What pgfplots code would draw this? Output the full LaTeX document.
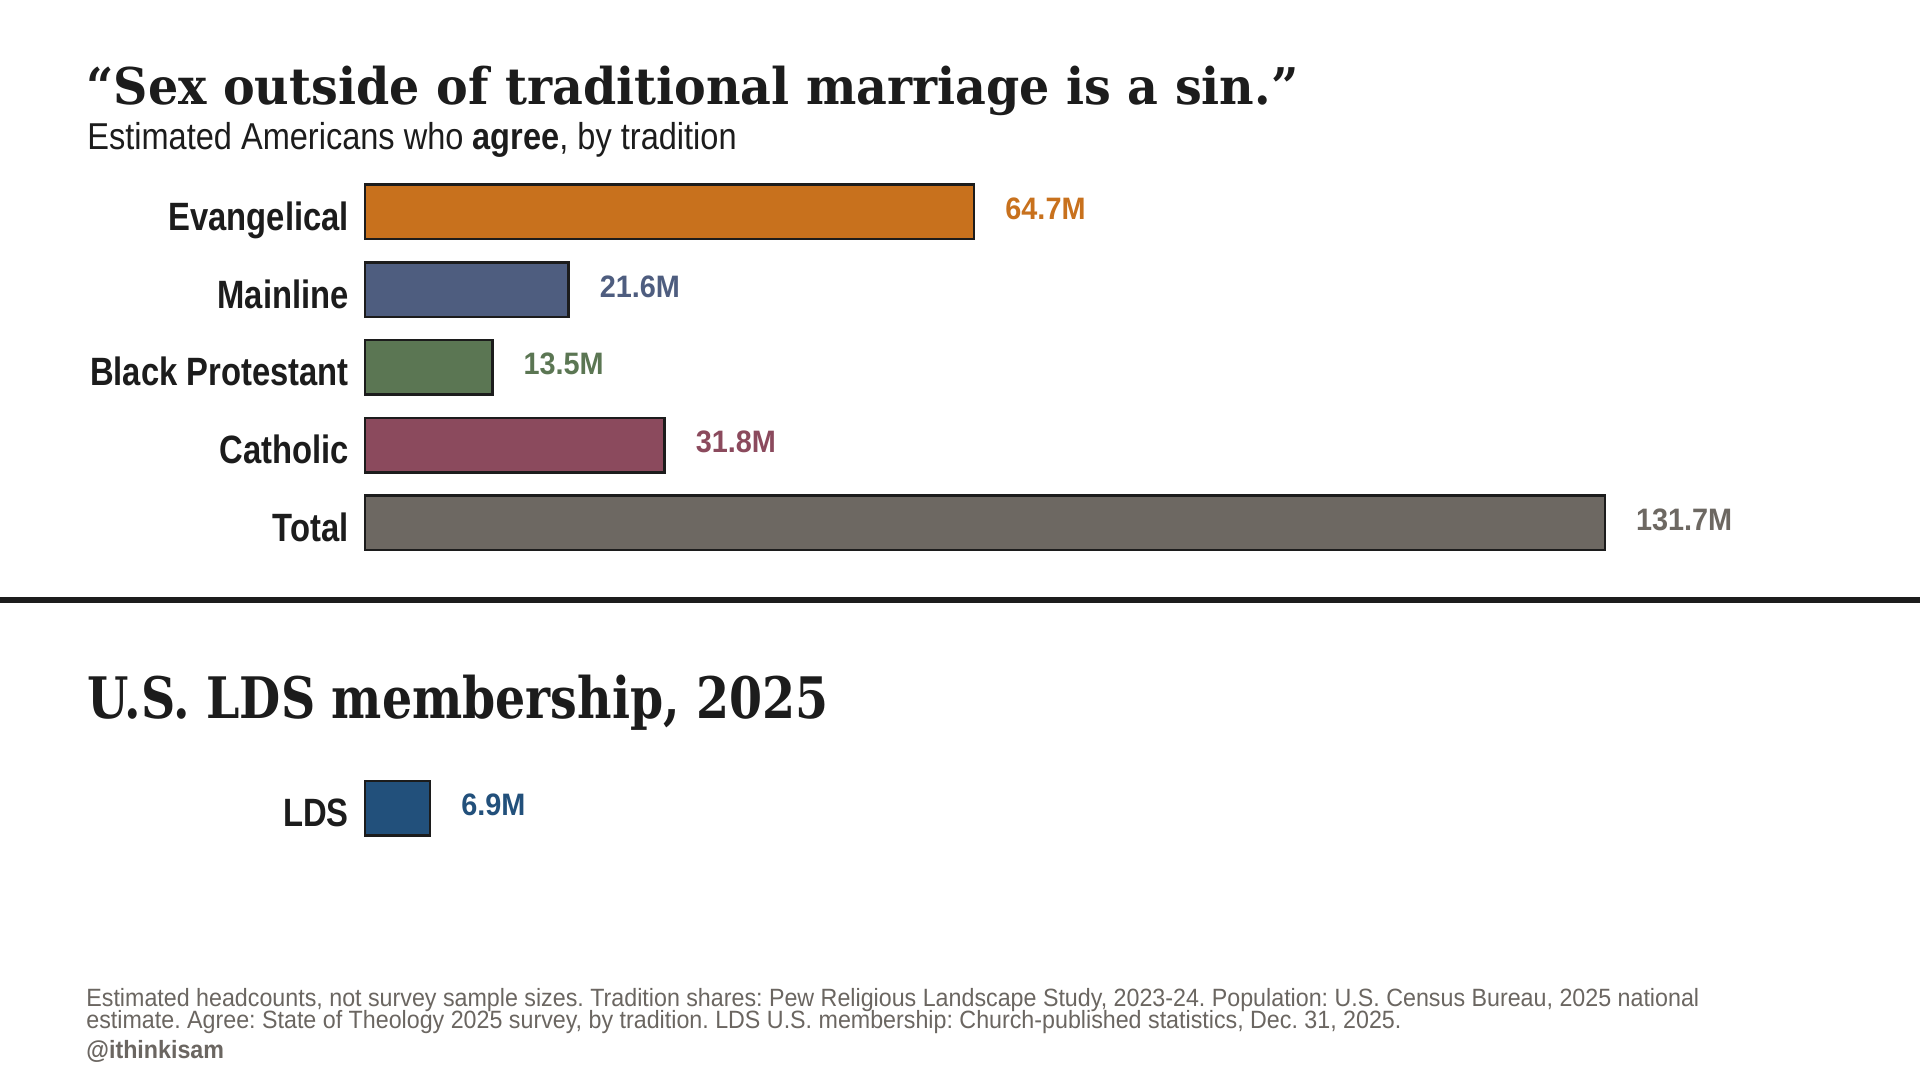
\documentclass[border=0pt]{standalone}
\usepackage{fontspec}
\usepackage{pgfplots}
\pgfplotsset{compat=1.18}
\setmainfont{Liberation Sans}
\newfontfamily\labfont{Liberation Sans}[FakeStretch=0.83]
\newfontfamily\valfont{Liberation Sans}[FakeStretch=0.93]
\newfontfamily\subfont{Liberation Sans}[FakeStretch=0.87]
\newfontfamily\footfont{Liberation Sans}[FakeStretch=0.93]
\newfontfamily\titfont{DejaVu Serif}[FakeStretch=0.94]
\newfontfamily\titbfont{DejaVu Serif}[FakeStretch=0.83]
\frenchspacing

\definecolor{evang}{HTML}{C8711D}
\definecolor{mainl}{HTML}{4E5D7F}
\definecolor{blackp}{HTML}{5B7653}
\definecolor{cath}{HTML}{8B4A5D}
\definecolor{total}{HTML}{6D6862}
\definecolor{lds}{HTML}{22507B}
\definecolor{ink}{HTML}{1C1C1C}
\definecolor{foot}{HTML}{6B6661}

\pgfplotsset{
    hbar/.style={
        xbar, bar shift=0pt, bar width=27.25pt,
        scale only axis, clip=false,
        width=619.8pt,
        xmin=0, xmax=131.7,
        y dir=reverse,
        axis line style={draw=none},
        xtick=\empty,
        major tick length=0pt, tick align=inside,
        point meta=x,
        nodes near coords={\pgfmathprintnumber[fixed,fixed zerofill,precision=1,assume math mode=true]{\pgfplotspointmeta}M},
        every node near coord/.append style={anchor=west, inner sep=0pt, xshift=15pt, yshift=1.5pt,
            font=\valfont\bfseries\fontsize{15.5}{17}\selectfont},
        yticklabel style={anchor=base east, inner sep=0pt, xshift=-8pt, yshift=-9.25pt,
            text=ink, font=\labfont\bfseries\fontsize{19.75}{22}\selectfont},
    },
    onebar/.style={draw=ink, line width=1.25pt, fill=#1,
        every node near coord/.append style={text=#1}},
}

\begin{document}
\begin{tikzpicture}
\path[use as bounding box, fill=white] (0,0) rectangle (960pt,-540pt);

% titles
\node[anchor=base west, inner sep=0pt, text=ink,
      font=\titfont\bfseries\fontsize{25.3}{29}\selectfont] at (43pt,-52.4pt)
      {“Sex outside of traditional marriage is a sin.”};
\node[anchor=base west, inner sep=0pt, text=ink,
      font=\subfont\fontsize{18.7}{21}\selectfont] at (43.5pt,-74.8pt)
      {Estimated Americans who \textbf{agree}, by tradition};

% top chart
\begin{axis}[hbar, at={(182.6pt,-86.45pt)}, anchor=north west,
    height=194.375pt, ymin=-0.5, ymax=4.5,
    ytick={0,1,2,3,4},
    yticklabels={Evangelical,Mainline,Black Protestant,Catholic,Total}]
  \addplot[onebar=evang]  coordinates {(64.7,0)};
  \addplot[onebar=mainl]  coordinates {(21.6,1)};
  \addplot[onebar=blackp] coordinates {(13.5,2)};
  \addplot[onebar=cath]   coordinates {(31.8,3)};
  \addplot[onebar=total]  coordinates {(131.7,4)};
\end{axis}

\draw[ink, line width=2.65pt] (0,-300pt) -- (960pt,-300pt);

\node[anchor=base west, inner sep=0pt, text=ink,
      font=\titbfont\bfseries\fontsize{28.6}{32}\selectfont] at (43.5pt,-359.15pt)
      {U.S. LDS membership, 2025};

% bottom chart
\begin{axis}[hbar, at={(182.6pt,-384.7pt)}, anchor=north west,
    height=38.875pt, ymin=-0.5, ymax=0.5,
    ytick={0}, yticklabels={LDS}]
  \addplot[onebar=lds] coordinates {(6.9,0)};
\end{axis}

% footer
\node[anchor=base west, inner sep=0pt, text=foot,
      font=\footfont\fontsize{12.5}{14}\selectfont] at (43pt,-503pt)
      {Estimated headcounts, not survey sample sizes. Tradition shares: Pew Religious Landscape Study, 2023-24. Population: U.S. Census Bureau, 2025 national};
\node[anchor=base west, inner sep=0pt, text=foot,
      font=\footfont\fontsize{12.5}{14}\selectfont] at (43pt,-514.3pt)
      {estimate. Agree: State of Theology 2025 survey, by tradition. LDS U.S. membership: Church-published statistics, Dec. 31, 2025.};
\node[anchor=base west, inner sep=0pt, text=foot,
      font=\footfont\bfseries\fontsize{12.5}{14}\selectfont] at (43pt,-529pt)
      {@ithinkisam};
\end{tikzpicture}
\end{document}
